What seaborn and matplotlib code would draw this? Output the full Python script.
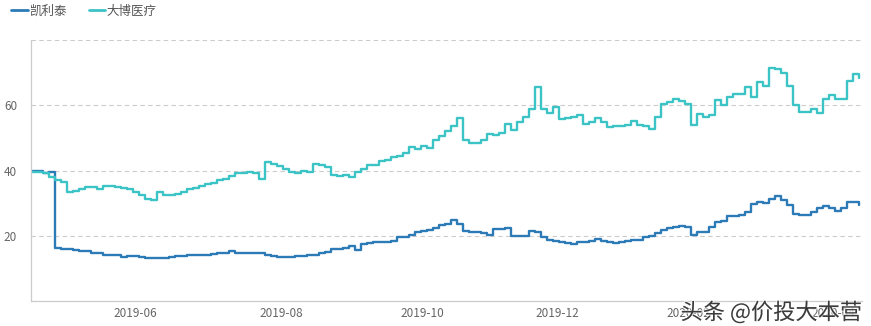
import numpy as np
import pandas as pd
import matplotlib
matplotlib.use("Agg")
import matplotlib.pyplot as plt
import matplotlib.patheffects as pe
from matplotlib.lines import Line2D
import seaborn as sns

kelitai = [
    39.7, 39.9, 39.3, 39.6, 16.1, 16.0, 15.8, 15.5, 15.2, 15.2, 14.8, 14.6, 14.2, 14.0, 14.0, 13.6,
    13.8, 13.9, 13.6, 13.3, 13.2, 13.1, 13.1, 13.4, 13.7, 13.9, 14.0, 14.2, 14.1, 14.2, 14.5, 14.7,
    14.8, 15.3, 14.8, 14.7, 14.7, 14.7, 14.6, 14.2, 13.8, 13.4, 13.4, 13.6, 13.8, 13.8, 14.0, 14.2,
    14.6, 15.0, 15.8, 16.0, 16.3, 16.8, 15.6, 17.6, 17.8, 18.1, 18.2, 18.2, 18.4, 19.6, 19.7, 20.2,
    21.0, 21.5, 21.8, 22.5, 23.2, 23.5, 24.8, 23.5, 21.5, 21.2, 21.0, 20.7, 20.3, 22.0, 22.2, 22.3,
    20.0, 20.0, 20.0, 21.5, 21.3, 19.5, 18.8, 18.4, 18.0, 17.8, 17.6, 18.0, 18.0, 18.5, 18.9,
    18.4, 18.2, 17.8, 18.0, 18.3, 18.6, 18.8, 19.7, 20.0, 20.7, 21.7, 22.5, 22.7, 22.9, 22.8, 20.2,
    21.2, 21.3, 22.7, 24.3, 24.5, 26.1, 26.1, 26.3, 27.3, 29.7, 30.4, 30.0, 31.4, 32.2, 31.0, 29.4,
    26.8, 26.3, 26.5, 27.3, 28.5, 29.0, 28.5, 27.6, 28.5, 30.4, 30.2, 29.4,
]
dabo = [
    39.6, 39.6, 39.1, 38.1, 37.0, 36.5, 33.5, 33.8, 34.2, 35.0, 34.8, 34.4, 35.3, 35.1, 34.8, 34.7,
    34.2, 33.5, 32.5, 31.4, 30.9, 33.5, 32.5, 32.4, 32.7, 33.4, 34.2, 34.5, 35.1, 36.0, 36.2, 37.0,
    37.5, 38.2, 39.3, 39.3, 39.6, 39.1, 37.5, 42.7, 42.1, 41.3, 40.5, 39.6, 39.1, 39.9, 39.6, 41.9,
    41.6, 41.0, 38.5, 38.3, 38.5, 38.0, 39.5, 40.5, 41.6, 41.6, 43.0, 43.2, 44.2, 44.5, 45.5, 47.2,
    46.5, 47.5, 47.0, 49.5, 50.5, 52.0, 53.5, 56.0, 49.5, 48.3, 48.5, 49.5, 51.3, 51.0, 51.5, 54.4,
    52.3, 55.0, 56.4, 59.0, 65.5, 59.0, 57.5, 59.5, 55.8, 56.2, 56.4, 57.0, 54.4, 54.8, 56.0,
    54.9, 53.4, 53.6, 53.6, 53.8, 55.2, 54.0, 53.5, 52.6, 56.4, 60.5, 61.0, 62.0, 61.3, 60.5, 54.0,
    57.4, 56.4, 57.0, 61.5, 60.0, 62.6, 63.6, 63.6, 65.6, 62.6, 67.0, 66.0, 71.5, 71.0, 70.0, 66.0,
    60.0, 58.0, 58.0, 59.0, 57.5, 62.0, 63.0, 62.0, 62.0, 67.5, 69.5, 68.2,
]
series_names = ["凯利泰", "大博医疗"]
tick_labels = ["2019-06", "2019-08", "2019-10", "2019-12", "2020-02", "2020-04"]
tick_index = [17.3, 41.7, 65.2, 87.8, 109.5, 133.8]
y_ticks = [20, 40, 60, 80]
y_tick_labels = ["20", "40", "60", ""]

n = len(kelitai)
df = pd.DataFrame({
    "idx": list(range(n)) * 2,
    "price": kelitai + dabo,
    "name": [series_names[0]] * n + [series_names[1]] * len(dabo),
})

sns.set_theme(style="white")
plt.rcParams["font.family"] = ["Noto Sans CJK SC", "DejaVu Sans"]

fig = plt.figure(figsize=(8.71, 3.26), dpi=100)
ax = fig.add_axes([31 / 871, 1 - 301 / 326, (862 - 31) / 871, (301 - 40) / 326])

palette = {"凯利泰": "#2c7bb6", "大博医疗": "#3cc3c6"}
sns.lineplot(data=df, x="idx", y="price", hue="name", palette=palette,
             drawstyle="steps-post", linewidth=1.7, ax=ax, legend=False)

ax.set_xlim(0, 138.5)
ax.set_ylim(0, 80)
ax.set_xticks(tick_index)
ax.set_xticklabels(tick_labels)
ax.set_yticks(y_ticks)
ax.set_yticklabels(y_tick_labels)
ax.set_xlabel("")
ax.set_ylabel("")
ax.tick_params(axis="both", length=0, colors="#666666", labelsize=8.5)
ax.tick_params(axis="x", pad=4)
ax.tick_params(axis="y", pad=19.5)
for lab in ax.get_yticklabels():
    lab.set_horizontalalignment("left")

ax.grid(axis="y", linestyle=(0, (4, 3)), color="#cccccc", linewidth=0.8)
ax.grid(axis="x", visible=False)
for s in ["top", "right"]:
    ax.spines[s].set_visible(False)
ax.spines["left"].set_color("#cccccc")
ax.spines["bottom"].set_color("#cccccc")
ax.spines["left"].set_linewidth(0.9)
ax.spines["bottom"].set_linewidth(0.9)

# legend
handles = [Line2D([0], [0], color=palette[nm], lw=2) for nm in series_names]
fig.legend(handles, series_names, loc="upper left", bbox_to_anchor=(0.0, 1.02),
           ncol=2, frameon=False, fontsize=9, handlelength=1.3, handletextpad=0.1,
           columnspacing=1.8, labelcolor="#555555")

# watermark (semi-transparent, tick labels show through as in the reference)
fig.text(0.99, 0.005, "头条 @价投大本营", ha="right", va="bottom", fontsize=16,
         color="#222222", alpha=0.85,
         path_effects=[pe.withStroke(linewidth=1.5, foreground="white", alpha=0.7)])

fig.savefig("out.png", dpi=100)
